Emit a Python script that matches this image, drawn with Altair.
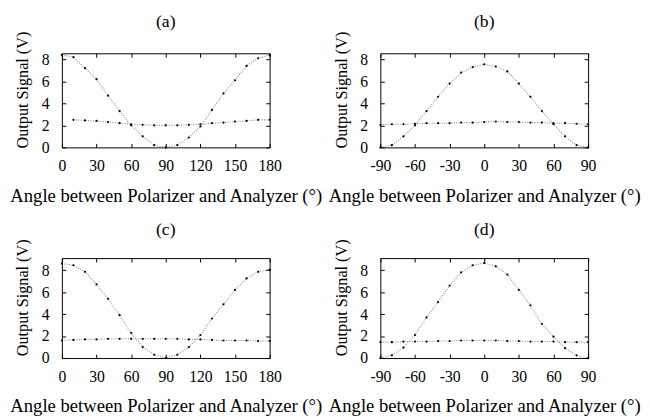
import altair as alt
import pandas as pd

# ---- data ----
angles_0_180 = [0, 10, 20, 30, 40, 50, 60, 70, 80, 90, 100, 110, 120, 130, 140, 150, 160, 170, 180]
angles_10_180 = [10, 20, 30, 40, 50, 60, 70, 80, 90, 100, 110, 120, 130, 140, 150, 160, 170, 180]
angles_pm90 = [-90, -80, -70, -60, -50, -40, -30, -20, -10, 0, 10, 20, 30, 40, 50, 60, 70, 80, 90]

a_curve = [8.4, 8.2, 7.2, 6.2, 4.7, 3.3, 2.0, 1.0, 0.2, 0.0, 0.2, 0.9, 1.9, 3.4, 4.9, 6.1, 7.4, 8.1, 8.4]
a_flat = [2.5, 2.45, 2.4, 2.3, 2.2, 2.1, 2.05, 2.0, 2.0, 2.0, 2.05, 2.1, 2.2, 2.25, 2.35, 2.4, 2.5, 2.5]

b_curve = [0.0, 0.2, 1.0, 2.0, 3.3, 4.6, 5.8, 6.8, 7.3, 7.55, 7.35, 6.9, 5.8, 4.6, 3.3, 2.1, 1.0, 0.2, 0.0]
b_flat = [2.05, 2.1, 2.1, 2.15, 2.2, 2.2, 2.2, 2.25, 2.25, 2.3, 2.35, 2.3, 2.3, 2.25, 2.25, 2.2, 2.2, 2.15, 2.1]

c_curve = [8.6, 8.45, 7.85, 6.7, 5.4, 3.9, 2.3, 1.0, 0.3, 0.0, 0.3, 1.0, 2.1, 3.6, 4.9, 6.2, 7.25, 7.85, 8.05]
c_flat = [1.6, 1.65, 1.7, 1.7, 1.75, 1.75, 1.75, 1.75, 1.75, 1.75, 1.75, 1.7, 1.7, 1.65, 1.6, 1.6, 1.6, 1.55, 1.55]

d_curve = [0.0, 0.25, 0.95, 2.1, 3.7, 5.1, 6.6, 7.8, 8.45, 8.65, 8.35, 7.6, 6.2, 4.8, 3.1, 1.95, 0.9, 0.25, 0.0]
d_flat = [1.45, 1.45, 1.5, 1.5, 1.5, 1.55, 1.55, 1.6, 1.6, 1.6, 1.6, 1.55, 1.55, 1.5, 1.5, 1.5, 1.45, 1.45, 1.45]

ticks_0_180 = [0, 30, 60, 90, 120, 150, 180]
ticks_pm90 = [-90, -60, -30, 0, 30, 60, 90]
y_ticks = [0, 2, 4, 6, 8]

X_TITLE = "Angle between Polarizer and Analyzer (°)"
Y_TITLE = "Output Signal (V)"
FONT = "Liberation Serif"


def panel(label, xs1, s1, xs2, s2, xticks, ymax, h):
    df = pd.DataFrame({
        "angle": xs1 + xs2,
        "signal": s1 + s2,
        "series": ["curve"] * len(xs1) + ["flat"] * len(xs2),
    })
    xscale = alt.Scale(domain=[xticks[0], xticks[-1]], nice=False, zero=False)
    yscale = alt.Scale(domain=[0, ymax], nice=False)

    x_bottom = alt.Axis(values=xticks, title=X_TITLE, orient="bottom", labelPadding=11,
                        titlePadding=13, labelExpr="'' + datum.value", titleFontSize=19)
    y_left = alt.Axis(values=y_ticks, title=Y_TITLE, orient="left", labelPadding=13,
                      titlePadding=11, titleFontSize=16.5, titleY=h / 2 - 11)
    x_top = alt.Axis(values=xticks, title="", orient="top", labels=False)
    y_right = alt.Axis(values=y_ticks, title="", orient="right", labels=False)

    base = alt.Chart(df)
    line = base.mark_line(strokeDash=[1, 1.5], color="#8a8a8a", strokeWidth=1.1).encode(
        x=alt.X("angle:Q", scale=xscale, axis=x_bottom),
        y=alt.Y("signal:Q", scale=yscale, axis=y_left),
        detail="series:N",
    )
    pts = base.mark_point(filled=True, size=5, color="black", opacity=1).encode(
        x=alt.X("angle:Q", scale=xscale, axis=x_top),
        y=alt.Y("signal:Q", scale=yscale, axis=y_right),
    )
    return alt.layer(line, pts).resolve_axis(x="independent", y="independent").properties(
        width=212, height=h,
        title=alt.TitleParams(text=label, fontSize=18, font=FONT, fontWeight="normal",
                              color="black", offset=0, anchor="middle", frame="group"),
    )


pa = panel("(a)", angles_0_180, a_curve, angles_10_180, a_flat, ticks_0_180, 8.55, 96)
pb = panel("(b)", angles_pm90, b_curve, angles_pm90, b_flat, ticks_pm90, 8.55, 96)
pc = panel("(c)", angles_0_180, c_curve, angles_0_180, c_flat, ticks_0_180, 9.1, 102)
pd_ = panel("(d)", angles_pm90, d_curve, angles_pm90, d_flat, ticks_pm90, 9.1, 102)

chart = alt.concat(pa, pb, pc, pd_, columns=2, spacing=113, bounds="flush").properties(
    padding={"left": 0, "top": 0, "right": 0, "bottom": 0},
    background="white",
).configure_view(
    stroke="black", strokeWidth=1
).configure_axis(
    labelFont=FONT, titleFont=FONT, labelFontSize=16, titleFontWeight="normal",
    labelColor="black", titleColor="black", tickColor="black", tickSize=4, offset=-4,
    domain=False, grid=False, labelOverlap=False, labelFlush=False, labelBound=False,
).configure_title(font=FONT)

chart.save("out.html", embed_options={"renderer": "svg", "actions": False})
